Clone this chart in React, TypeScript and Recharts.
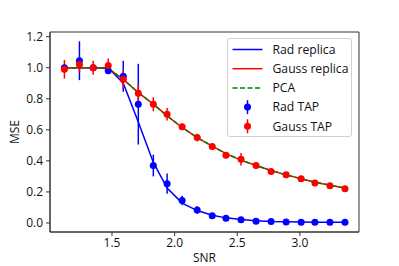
import {
    ComposedChart,
    Line,
    XAxis,
    YAxis,
    ErrorBar,
    Legend,
    Label,
    ReferenceArea,
} from "recharts";

const snr = [1.12, 1.24, 1.35, 1.47, 1.59, 1.71, 1.83, 1.94, 2.06, 2.18, 2.3, 2.41, 2.53, 2.65, 2.77, 2.89, 3.01, 3.12, 3.24, 3.36];

const radReplica = [1.0, 1.0, 1.0, 1.0, 0.9, 0.65, 0.39, 0.225, 0.128, 0.08, 0.05, 0.033, 0.022, 0.015, 0.01, 0.008, 0.006, 0.005, 0.004, 0.004];
const gaussReplica = [1.0, 1.0, 1.0, 0.995, 0.925, 0.84, 0.765, 0.69, 0.615, 0.55, 0.495, 0.447, 0.405, 0.37, 0.338, 0.31, 0.285, 0.263, 0.243, 0.225];
const pca = [1.0, 1.0, 1.0, 0.995, 0.925, 0.84, 0.765, 0.69, 0.615, 0.55, 0.495, 0.447, 0.405, 0.37, 0.338, 0.31, 0.285, 0.263, 0.243, 0.225];

const radTap = [1.0, 1.045, 1.0, 0.98, 0.945, 0.765, 0.37, 0.253, 0.145, 0.083, 0.047, 0.03, 0.021, 0.011, 0.009, 0.007, 0.005, 0.004, 0.004, 0.004];
const radTapErr = [0.01, 0.125, 0.01, 0.01, 0.1, 0.26, 0.07, 0.065, 0.03, 0.025, 0.01, 0.01, 0.01, 0.005, 0.004, 0.003, 0.003, 0.003, 0.003, 0.003];

const gaussTap = [0.99, 1.02, 1.0, 1.015, 0.925, 0.835, 0.765, 0.7, 0.62, 0.55, 0.493, 0.437, 0.41, 0.37, 0.332, 0.31, 0.285, 0.257, 0.24, 0.22];
const gaussTapErr = [0.06, 0.05, 0.045, 0.045, 0.06, 0.055, 0.045, 0.04, 0.02, 0.025, 0.015, 0.02, 0.04, 0.02, 0.012, 0.01, 0.01, 0.01, 0.01, 0.01];

const xTicks = [1.5, 2.0, 2.5, 3.0];
const yTicks = [0, 0.2, 0.4, 0.6, 0.8, 1.0, 1.2];

const X_DOMAIN: [number, number] = [1.005, 3.472];
const Y_DOMAIN: [number, number] = [-0.058, 1.23];

const data = snr.map((s, i) => ({
    snr: s,
    radReplica: radReplica[i],
    gaussReplica: gaussReplica[i],
    pca: pca[i],
    radTap: radTap[i],
    radTapErr: radTapErr[i],
    gaussTap: gaussTap[i],
    gaussTapErr: gaussTapErr[i],
}));

const legendItems = [
    { label: "Rad replica", color: "#0000ff", kind: "line" },
    { label: "Gauss replica", color: "#ff0000", kind: "line" },
    { label: "PCA", color: "#008000", kind: "dash" },
    { label: "Rad TAP", color: "#0000ff", kind: "point" },
    { label: "Gauss TAP", color: "#ff0000", kind: "point" },
];

function PlotLegend() {
    return (
        <div
            style={{
                width: 125,
                height: 99,
                boxSizing: "border-box",
                border: "1px solid #d0d0d0",
                borderRadius: 3,
                background: "rgba(255,255,255,0.8)",
                position: "relative",
            }}
        >
            <svg width={123} height={97} style={{ position: "absolute", left: 0, top: 0 }}>
                {legendItems.map((item, i) => {
                    const y = 10.5 + i * 19.2;
                    return (
                        <g key={item.label}>
                            {item.kind === "point" ? (
                                <>
                                    <line x1={19.5} x2={19.5} y1={y - 7} y2={y + 7} stroke={item.color} strokeWidth={1.5} />
                                    <circle cx={19.5} cy={y} r={3.5} fill={item.color} />
                                </>
                            ) : (
                                <line
                                    x1={4.5}
                                    x2={34.5}
                                    y1={y}
                                    y2={y}
                                    stroke={item.color}
                                    strokeWidth={1.5}
                                    strokeDasharray={item.kind === "dash" ? "5 2.5" : undefined}
                                />
                            )}
                            <text x={44.5} y={y + 4.3} fontSize={12.2} fill="#111">
                                {item.label}
                            </text>
                        </g>
                    );
                })}
            </svg>
        </div>
    );
}

export default function App() {
    return (
        <div style={{ position: "absolute", left: 0, top: 0, width: 399, height: 266, background: "#fff", fontFamily: "'Open Sans', sans-serif" }}>
            <ComposedChart width={399} height={266} data={data} margin={{ top: 32, right: 40, bottom: 0, left: 0 }}>
                <XAxis
                    type="number"
                    dataKey="snr"
                    domain={X_DOMAIN}
                    allowDataOverflow
                    ticks={xTicks}
                    tickFormatter={(v: number) => v.toFixed(1)}
                    height={34}
                    tickSize={4}
                    tickMargin={2}
                    axisLine={{ stroke: "#333" }}
                    tickLine={{ stroke: "#333" }}
                    tick={{ fill: "#111", fontSize: 12 }}
                >
                    <Label value="SNR" position="insideBottom" offset={4} style={{ fill: "#111", fontSize: 12 }} />
                </XAxis>
                <YAxis
                    type="number"
                    domain={Y_DOMAIN}
                    allowDataOverflow
                    ticks={yTicks}
                    tickFormatter={(v: number) => v.toFixed(1)}
                    width={50}
                    tickSize={4}
                    tickMargin={3}
                    axisLine={{ stroke: "#333" }}
                    tickLine={{ stroke: "#333" }}
                    tick={{ fill: "#111", fontSize: 12 }}
                >
                    <Label value="MSE" angle={-90} position="insideLeft" offset={15} style={{ fill: "#111", fontSize: 12, textAnchor: "middle" }} />
                </YAxis>
                <ReferenceArea x1={X_DOMAIN[0]} x2={X_DOMAIN[1]} y1={Y_DOMAIN[0]} y2={Y_DOMAIN[1]} fill="none" stroke="#333" strokeOpacity={1} />
                <Line type="linear" dataKey="radReplica" stroke="#0000ff" strokeWidth={1.5} dot={false} activeDot={false} isAnimationActive={false} />
                <Line type="linear" dataKey="gaussReplica" stroke="#ff0000" strokeWidth={1.5} dot={false} activeDot={false} isAnimationActive={false} />
                <Line type="linear" dataKey="pca" stroke="#008000" strokeWidth={1.5} strokeDasharray="5 2.5" dot={false} activeDot={false} isAnimationActive={false} />
                <Line
                    type="linear"
                    dataKey="radTap"
                    stroke="none"
                    dot={{ r: 3.5, fill: "#0000ff", stroke: "none" }}
                    activeDot={false}
                    isAnimationActive={false}
                >
                    <ErrorBar dataKey="radTapErr" direction="y" width={0} stroke="#0000ff" strokeWidth={1.5} isAnimationActive={false} />
                </Line>
                <Line
                    type="linear"
                    dataKey="gaussTap"
                    stroke="none"
                    dot={{ r: 3.5, fill: "#ff0000", stroke: "none" }}
                    activeDot={false}
                    isAnimationActive={false}
                >
                    <ErrorBar dataKey="gaussTapErr" direction="y" width={0} stroke="#ff0000" strokeWidth={1.5} isAnimationActive={false} />
                </Line>
                <Legend
                    layout="vertical"
                    align="center"
                    verticalAlign="middle"
                    content={() => <PlotLegend />}
                    wrapperStyle={{ position: "absolute", left: 227, top: 38, width: 125, height: 99 }}
                />
            </ComposedChart>
        </div>
    );
}
